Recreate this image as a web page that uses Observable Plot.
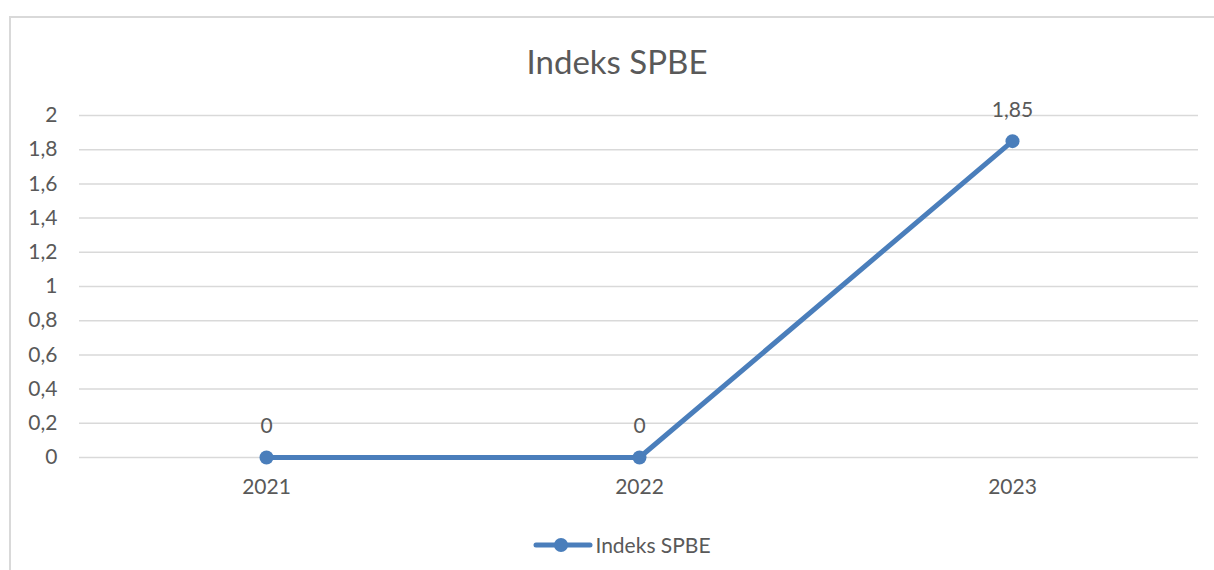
<!DOCTYPE html>
<html>
<head>
<meta charset="utf-8">
<script src="https://cdn.jsdelivr.net/npm/d3@7"></script>
<script src="https://cdn.jsdelivr.net/npm/@observablehq/plot@0.6"></script>
<style>
  html, body { margin: 0; padding: 0; background: #fff; }
  body { width: 1214px; height: 570px; position: relative; overflow: hidden; font-family: Lato, "Open Sans", sans-serif; color: #595959; }
  #frame { position: absolute; left: 9px; top: 16px; width: 1210px; height: 560px; border-top: 2px solid #d9d9d9; border-left: 2px solid #d9d9d9; }
  #title { position: absolute; left: 0; width: 1234px; top: 41px; text-align: center; font-size: 33px; line-height: 40px; }
  #chart { position: absolute; left: 0; top: 80px; }
  #legend { position: absolute; left: 0; width: 1244px; top: 528px; text-align: center; font-size: 21px; line-height: 28px; }
  #legend svg { vertical-align: middle; margin-right: 2px; }
  #legend span { vertical-align: middle; }
</style>
</head>
<body>
<div id="frame"></div>
<div id="title">Indeks SPBE</div>
<div id="chart"></div>
<div id="legend"></div>
<script>
const seriesName = "Indeks SPBE";
const years = ["2021", "2022", "2023"];
const values = [0, 0, 1.85];
const yTicks = [0, 0.2, 0.4, 0.6, 0.8, 1, 1.2, 1.4, 1.6, 1.8, 2];

const color = "#4a7ebb";
const textColor = "#595959";
const fmt = d => String(+d.toFixed(2)).replace(".", ",");

const data = years.map((y, i) => ({year: y, value: values[i]}));

const plot = Plot.plot({
  width: 1214,
  height: 440,
  marginLeft: 79,
  marginRight: 16,
  marginTop: 35,
  marginBottom: 63,
  style: {fontFamily: "Lato, 'Open Sans', sans-serif", color: textColor, background: "transparent"},
  x: {type: "point", domain: years, padding: 0.5, label: null},
  y: {domain: [0, 2], label: null},
  marks: [
    Plot.gridY(yTicks, {stroke: "#d9d9d9", strokeOpacity: 1, strokeWidth: 1.5}),
    Plot.axisY(yTicks, {tickSize: 0, tickPadding: 22, tickFormat: fmt, fontSize: 21, fill: textColor, label: null}),
    Plot.axisX(years, {tickSize: 0, tickPadding: 22, fontSize: 21, fill: textColor, label: null}),
    Plot.line(data, {x: "year", y: "value", stroke: color, strokeWidth: 5}),
    Plot.dot(data, {x: "year", y: "value", r: 7, fill: color, stroke: "none"}),
    Plot.text(data, {x: "year", y: "value", text: d => fmt(d.value), dy: -31, fontSize: 21, fill: textColor})
  ]
});
document.getElementById("chart").appendChild(plot);

const legend = document.getElementById("legend");
legend.innerHTML = `<svg width="60" height="20"><line x1="3" y1="10" x2="57" y2="10" stroke="${color}" stroke-width="5" stroke-linecap="round"/><circle cx="28" cy="10" r="7" fill="${color}"/></svg><span>${seriesName}</span>`;
</script>
</body>
</html>
